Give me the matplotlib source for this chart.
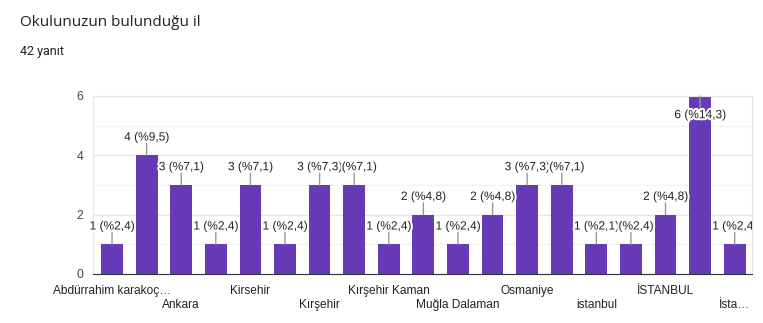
import matplotlib
matplotlib.use("Agg")
import matplotlib.pyplot as plt
import matplotlib.patheffects as pe
from matplotlib.transforms import Bbox

# ---- data ----
title = "Okulunuzun bulunduğu il"
subtitle = "42 yanıt"
tick_labels = ["Abdürrahim karakoç…", "", "Ankara", "", "Kirsehir", "", "Kırşehir", "",
               "Kırşehir Kaman", "", "Muğla Dalaman", "", "Osmaniye", "", "istanbul", "",
               "İSTANBUL", "", "İsta…"]
counts = [1, 4, 3, 1, 3, 1, 3, 3, 1, 2, 1, 2, 3, 3, 1, 1, 2, 6, 1]
percents = ["2,4", "9,5", "7,1", "2,4", "7,1", "2,4", "7,1", "7,1", "2,4", "4,8",
            "2,4", "4,8", "7,1", "7,1", "2,4", "2,4", "4,8", "14,3", "2,4"]
yticks = [0, 2, 4, 6]

plt.rcParams['font.family'] = ['Liberation Sans', 'DejaVu Sans']

W, H = 763, 323
fig = plt.figure(figsize=(W / 100, H / 100), dpi=100)
fig.text(20/W, 1 - 22/H, title, fontsize=11, color="#202124",
         family=["Open Sans", "DejaVu Sans"], va="center", ha="left")
fig.text(20/W, 1 - 52/H, subtitle, fontsize=9, color="#202124",
         family=["Roboto", "DejaVu Sans"], va="center", ha="left")

ax = fig.add_axes([93/W, 1 - 274/H, (752 - 93)/W, (274 - 96)/H])
x = list(range(len(counts)))
ax.bar(x, counts, width=0.63, color="#673ab7", zorder=2)
ax.set_xlim(-0.55, len(counts) - 0.5)
ymax = 6
ax.set_ylim(0, ymax)

ax.set_yticks(yticks)
ax.set_yticklabels([str(t) for t in yticks])
ax.set_yticks([1, 3, 5], minor=True)
ax.grid(axis="y", which="major", color="#e6e6e6", lw=1, zorder=0)
ax.grid(axis="y", which="minor", color="#f3f3f3", lw=1, zorder=0)
ax.tick_params(axis="y", which="both", length=0, labelsize=8.8, labelcolor="#444444", pad=7)

shown = [(i, l) for i, l in enumerate(tick_labels) if l]
ax.set_xticks([i for i, _ in shown])
ax.set_xticklabels([l if k % 2 == 0 else "\n" + l for k, (i, l) in enumerate(shown)],
                   linespacing=1.25)
ax.tick_params(axis="x", length=0, labelsize=8.6, labelcolor="#222222", pad=8)

for s in ["left", "right", "top"]:
    ax.spines[s].set_color("#e6e6e6")
ax.spines["bottom"].set_color("#333333")
ax.spines["bottom"].set_zorder(3)

clip = Bbox([[80, 0], [752, H]])

for i, (c, p) in enumerate(zip(counts, percents)):
    up = c < ymax
    lead = 8.5 if up else -9.5
    # leader line
    ax.annotate("", xy=(i, c), xytext=(0, lead), textcoords="offset points",
                arrowprops=dict(arrowstyle="-", color="#999999", lw=1,
                                shrinkA=0, shrinkB=0),
                zorder=4, annotation_clip=False)
    ann = ax.annotate(f"{c} (%{p})", xy=(i, c), xytext=(0, lead), textcoords="offset points",
                      ha="center", va="bottom" if up else "top", fontsize=8.6,
                      color="#222222", zorder=5, annotation_clip=False)
    ann.set_path_effects([pe.withStroke(linewidth=3, foreground="white")])
    ann.set_clip_on(True)
    ann.set_clip_box(clip)

fig.savefig("out.png", dpi=100)
